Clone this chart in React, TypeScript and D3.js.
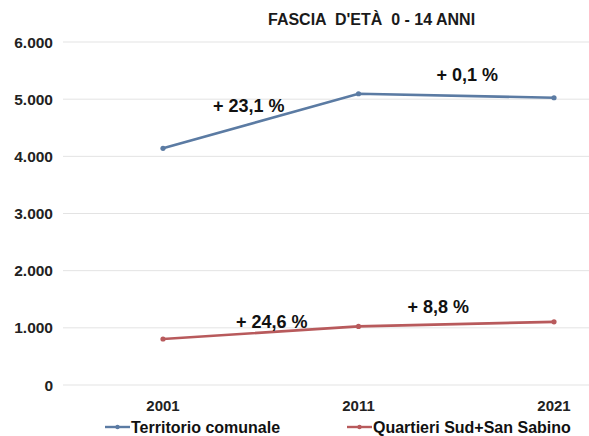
import React from "react";
import * as d3 from "d3";

const years = ["2001", "2011", "2021"];
const territorio = [4140, 5095, 5025];
const quartieri = [805, 1025, 1105];
const yTicks = [0, 1000, 2000, 3000, 4000, 5000, 6000];
const seriesNames = ["Territorio comunale", "Quartieri Sud+San Sabino"];
const labelsTerritorio = ["+ 23,1 %", "+ 0,1 %"];
const labelsQuartieri = ["+ 24,6 %", "+ 8,8 %"];
const title = "FASCIA  D'ETÀ  0 - 14 ANNI";

const W = 589;
const H = 436;
const BLUE = "#5b7ba3";
const RED = "#b85a5c";
const FONT = "'Liberation Sans', Arial, sans-serif";

export default function App() {
  const x = d3.scalePoint<string>().domain(years).range([163, 554]);
  const y = d3.scaleLinear().domain([0, 6000]).range([385, 42]);
  const fmt = (v: number) => (v === 0 ? "0" : d3.format(",")(v).replace(/,/g, "."));
  const line = d3
    .line<number>()
    .x((_, i) => x(years[i]) as number)
    .y((d) => y(d));

  const series = [
    { values: territorio, color: BLUE, labels: labelsTerritorio, offs: [[-12, -9], [11, -15]] },
    { values: quartieri, color: RED, labels: labelsQuartieri, offs: [[11, -5], [-18, -11]] },
  ];

  return (
    <svg
      width={W}
      height={H}
      style={{ position: "absolute", left: 0, top: 0, background: "#fff" }}
      fontFamily={FONT}
    >
      <text x={268} y={25} fontSize={16} fontWeight="bold" fill="#1a1a1a" style={{ whiteSpace: "pre" }}>
        {title}
      </text>
      {yTicks.map((t) => (
        <g key={t}>
          <line x1={63} x2={589} y1={y(t)} y2={y(t)} stroke="#e3e3e3" strokeWidth={1} />
          <text x={53} y={y(t) + 5.5} textAnchor="end" fontSize={15.5} fontWeight="bold" fill="#222">
            {fmt(t)}
          </text>
        </g>
      ))}
      {years.map((yr) => (
        <text key={yr} x={x(yr) as number} y={411} textAnchor="middle" fontSize={15} fontWeight="bold" fill="#222">
          {yr}
        </text>
      ))}
      {series.map((s, si) => (
        <g key={si}>
          <path d={line(s.values) || ""} fill="none" stroke={s.color} strokeWidth={2.6} />
          {s.values.map((v, i) => (
            <circle key={i} cx={x(years[i]) as number} cy={y(v)} r={2.6} fill={s.color} />
          ))}
          {s.labels.map((lb, i) => {
            const mx = ((x(years[i]) as number) + (x(years[i + 1]) as number)) / 2;
            const my = (y(s.values[i]) + y(s.values[i + 1])) / 2;
            return (
              <text
                key={lb}
                x={mx + s.offs[i][0]}
                y={my + s.offs[i][1]}
                textAnchor="middle"
                fontSize={18}
                fontWeight="bold"
                fill="#111"
              >
                {lb}
              </text>
            );
          })}
        </g>
      ))}
      {seriesNames.map((n, i) => {
        const lx = i === 0 ? 105 : 347;
        const c = i === 0 ? BLUE : RED;
        return (
          <g key={n}>
            <line x1={lx} x2={lx + 25} y1={427} y2={427} stroke={c} strokeWidth={2.4} />
            <circle cx={lx + 12.5} cy={427} r={2.2} fill={c} />
            <text x={lx + 26} y={432.5} fontSize={16} fontWeight="bold" fill="#111">
              {n}
            </text>
          </g>
        );
      })}
    </svg>
  );
}
